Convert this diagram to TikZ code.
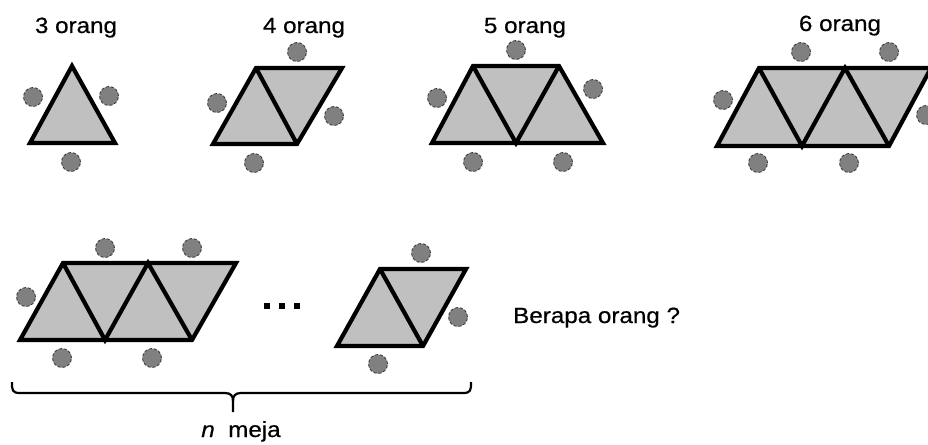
\documentclass[tikz,border=0pt]{standalone}
\usepackage{fontspec}
\setmainfont{Liberation Sans}[FakeBold=0.5]
\definecolor{tablegray}{RGB}{192,192,192}
\definecolor{seatgray}{RGB}{128,128,128}
\tikzset{
 tbl/.style={fill=tablegray, draw=black, line width=4.2pt, line join=miter},
 inner/.style={draw=black, line width=4.2pt},
 seat/.style={circle, fill=seatgray, draw=black!80, densely dashed, line width=0.8pt, minimum size=19pt, inner sep=0pt},
 lbl/.style={font=\fontsize{22}{22}\selectfont, anchor=base, inner sep=0pt},
 dot/.style={fill=black, minimum size=5.5pt, inner sep=0pt}
}
\begin{document}
\begin{tikzpicture}[x=1pt,y=-1pt]
\useasboundingbox (0,0) rectangle (928,444);
\clip (0,0) rectangle (928,444);
% labels
\node[lbl] (l3) at (76,33) {\scalebox{1.1}[1]{3 orang}};
\node[lbl] (l4) at (304,33) {\scalebox{1.1}[1]{4 orang}};
\node[lbl] (l5) at (525,33) {\scalebox{1.1}[1]{5 orang}};
\node[lbl] (l6) at (840,31) {\scalebox{1.1}[1]{6 orang}};
\node[lbl, anchor=base west] (q) at (513,323) {\scalebox{1.1}[1]{Berapa orang ?}};
% group 1
\draw[tbl] (72,66) -- (115,143) -- (30,143) -- cycle;
\node[seat] (s11) at (33,97) {};
\node[seat] (s12) at (109,96) {};
\node[seat] (s13) at (71,162) {};
% group 2
\draw[tbl] (256,68) -- (342,68) -- (297,144) -- (213,144) -- cycle;
\draw[inner] (256,68) -- (297,144);
\node[seat] (s21) at (297,52) {};
\node[seat] (s22) at (217,103) {};
\node[seat] (s23) at (334,116) {};
\node[seat] (s24) at (254,163) {};
% group 3
\draw[tbl] (473,66) -- (559,66) -- (603,143) -- (432,143) -- cycle;
\draw[inner] (473,66) -- (516,143) -- (559,66);
\node[seat] (s31) at (516,50) {};
\node[seat] (s32) at (437,98) {};
\node[seat] (s33) at (593,89) {};
\node[seat] (s34) at (473,162) {};
\node[seat] (s35) at (563,162) {};
% group 4
\draw[tbl] (759,68) -- (931,68) -- (889,146) -- (717,146) -- cycle;
\draw[inner] (759,68) -- (802,146) -- (845,68) -- (889,146);
\node[seat] (s41) at (801,52) {};
\node[seat] (s42) at (889,52) {};
\node[seat] (s43) at (723,100) {};
\node[seat] (s44) at (926,115) {};
\node[seat] (s45) at (758,163) {};
\node[seat] (s46) at (849,163) {};
% group 5
\draw[tbl] (63,263) -- (236,263) -- (192,340) -- (20,340) -- cycle;
\draw[inner] (63,263) -- (105,340) -- (148,263) -- (192,340);
\node[seat] (s51) at (105,248) {};
\node[seat] (s52) at (192,248) {};
\node[seat] (s53) at (26,297) {};
\node[seat] (s54) at (62,358) {};
\node[seat] (s55) at (152,358) {};
% dots
\node[dot] (d1) at (267,306) {};
\node[dot] (d2) at (282,306) {};
\node[dot] (d3) at (297,306) {};
% group 6
\draw[tbl] (380,269) -- (466,269) -- (423,346) -- (337,346) -- cycle;
\draw[inner] (380,269) -- (423,346);
\node[seat] (s61) at (421,253) {};
\node[seat] (s62) at (458,317) {};
\node[seat] (s63) at (378,364) {};
% brace
\draw[line width=2.2pt, line join=round] (12,382) .. controls (12,390) and (12,393) .. (20,393)
  -- (225,393) .. controls (231,393) and (233,396) .. (233,401) -- (233,412);
\draw[line width=2.2pt, line join=round] (471,382) .. controls (471,390) and (471,393) .. (463,393)
  -- (241,393) .. controls (235,393) and (233,396) .. (233,401);
\node[lbl] (nm) at (241,437) {\scalebox{1.1}[1]{\textit{n}\ \ meja}};
\end{tikzpicture}
\end{document}
